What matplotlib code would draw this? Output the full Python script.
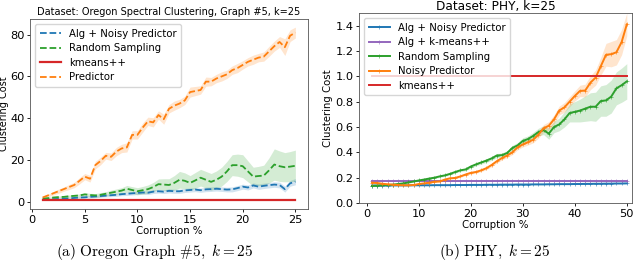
import numpy as np
import matplotlib
matplotlib.use('Agg')
import matplotlib.pyplot as plt

plt.rcParams['mathtext.fontset'] = 'cm'
plt.rcParams['font.size'] = 7.3

# ---- left panel: Oregon Graph #5 ----
x_oregon = np.arange(1, 25.5, 0.5)

predictor = [2.0, 3.0, 4.0, 5.0, 6.0, 7.0, 8.0, 10.0, 12.0, 11.0,
             17.5, 19.5, 22.0, 21.5, 24.0, 25.5, 26.0, 32.0, 32.0, 35.5,
             38.5, 38.0, 41.5, 39.5, 44.5, 46.0, 47.0, 48.5, 52.5, 53.0,
             53.5, 57.5, 57.5, 59.0, 60.0, 61.0, 63.0, 64.0, 65.5, 67.0,
             68.0, 69.0, 69.5, 72.0, 74.5, 76.5, 74.0, 79.5, 81.0]
predictor_err = [0.5, 0.6, 0.8, 1.0, 1.0, 1.2, 1.3, 1.5, 1.5, 1.6,
                 1.8, 1.8, 1.6, 1.8, 2.0, 2.0, 2.2, 2.0, 2.0, 2.2,
                 2.0, 2.2, 2.0, 2.4, 2.0, 2.2, 2.0, 2.0, 2.4, 2.2,
                 2.0, 2.2, 2.0, 2.0, 2.2, 2.0, 2.0, 2.2, 2.0, 2.0,
                 2.2, 2.0, 2.2, 2.4, 2.4, 2.6, 4.0, 2.8, 2.6]

random_sampling = [1.5, 1.7, 2.0, 2.2, 2.3, 2.6, 2.8, 3.0, 3.5, 3.2,
                   3.0, 3.3, 3.8, 4.3, 4.8, 5.3, 6.2, 5.6, 5.0, 5.5,
                   6.0, 7.0, 8.4, 8.2, 8.0, 9.0, 10.5, 10.0, 9.0, 10.2,
                   11.5, 10.5, 9.5, 10.5, 12.0, 14.5, 17.5, 17.5, 17.0, 14.5,
                   12.0, 12.3, 12.5, 15.0, 17.8, 17.0, 16.5, 16.8, 17.2]
random_err = [0.4, 0.4, 0.5, 0.5, 0.6, 0.6, 0.7, 0.7, 0.8, 0.8,
              0.9, 1.0, 1.0, 1.2, 1.3, 1.4, 1.6, 1.6, 1.7, 1.8,
              2.0, 2.2, 2.5, 2.8, 3.0, 3.5, 4.0, 3.8, 3.5, 3.8,
              4.0, 4.0, 4.0, 4.2, 4.5, 4.8, 5.0, 5.3, 5.5, 5.0,
              4.5, 4.6, 5.0, 6.0, 7.5, 7.3, 7.0, 7.2, 7.5]

alg_noisy = [1.0, 1.1, 1.2, 1.3, 1.5, 1.6, 1.8, 2.0, 2.1, 2.3,
             2.5, 2.7, 2.9, 3.1, 3.3, 3.6, 3.8, 4.0, 4.2, 4.4,
             4.3, 4.8, 5.0, 4.8, 5.2, 5.0, 5.0, 5.4, 5.6, 5.8,
             5.5, 5.9, 6.0, 6.2, 6.0, 5.8, 5.9, 6.5, 7.2, 6.8,
             7.8, 7.2, 7.6, 7.9, 8.2, 8.0, 6.0, 8.8, 9.6]
alg_noisy_err = [0.3, 0.3, 0.3, 0.4, 0.4, 0.4, 0.5, 0.5, 0.5, 0.6,
                 0.6, 0.6, 0.6, 0.7, 0.7, 0.7, 0.8, 0.8, 0.8, 0.8,
                 0.9, 0.9, 0.9, 0.9, 1.0, 1.0, 1.0, 1.0, 1.0, 1.0,
                 1.0, 1.1, 1.1, 1.1, 1.1, 1.1, 1.2, 1.2, 1.2, 1.2,
                 1.2, 1.3, 1.3, 1.3, 1.3, 1.4, 1.4, 1.4, 1.5]
kmeans_oregon = 1.0

# ---- right panel: PHY ----
x_phy = np.arange(1, 51)

phy_alg_noisy = [0.138, 0.138, 0.138, 0.138, 0.139, 0.139, 0.139, 0.139, 0.140, 0.140,
                 0.140, 0.140, 0.141, 0.141, 0.141, 0.141, 0.142, 0.142, 0.142, 0.143,
                 0.143, 0.143, 0.144, 0.144, 0.144, 0.145, 0.145, 0.145, 0.146, 0.146,
                 0.146, 0.147, 0.147, 0.147, 0.148, 0.148, 0.149, 0.149, 0.149, 0.150,
                 0.150, 0.151, 0.151, 0.152, 0.152, 0.153, 0.153, 0.154, 0.154, 0.155]
phy_alg_kmeans = 0.175

phy_random = [0.135, 0.137, 0.140, 0.142, 0.145, 0.150, 0.155, 0.162, 0.170, 0.178,
              0.185, 0.193, 0.200, 0.210, 0.218, 0.230, 0.245, 0.258, 0.265, 0.288,
              0.305, 0.320, 0.335, 0.352, 0.375, 0.378, 0.395, 0.435, 0.455, 0.490,
              0.505, 0.530, 0.560, 0.575, 0.548, 0.600, 0.620, 0.660, 0.710, 0.720,
              0.730, 0.745, 0.760, 0.760, 0.805, 0.810, 0.840, 0.905, 0.930, 0.960]
phy_random_err = [0.004, 0.004, 0.004, 0.004, 0.005, 0.005, 0.005, 0.005, 0.006, 0.006,
                  0.006, 0.006, 0.007, 0.007, 0.008, 0.008, 0.009, 0.010, 0.010, 0.011,
                  0.012, 0.013, 0.014, 0.015, 0.016, 0.017, 0.018, 0.020, 0.022, 0.025,
                  0.025, 0.028, 0.030, 0.035, 0.045, 0.045, 0.050, 0.060, 0.070, 0.080,
                  0.090, 0.100, 0.110, 0.115, 0.120, 0.125, 0.130, 0.130, 0.135, 0.140]

phy_noisy_pred = [0.160, 0.158, 0.152, 0.148, 0.145, 0.142, 0.140, 0.140, 0.142, 0.150,
                  0.155, 0.160, 0.168, 0.170, 0.185, 0.195, 0.198, 0.210, 0.225, 0.238,
                  0.245, 0.258, 0.275, 0.300, 0.330, 0.355, 0.375, 0.400, 0.440, 0.462,
                  0.480, 0.500, 0.540, 0.590, 0.610, 0.660, 0.730, 0.755, 0.800, 0.845,
                  0.885, 0.888, 0.950, 0.990, 1.080, 1.170, 1.175, 1.190, 1.270, 1.410]
phy_noisy_err = [0.004, 0.004, 0.004, 0.004, 0.004, 0.004, 0.004, 0.004, 0.004, 0.005,
                 0.005, 0.005, 0.006, 0.006, 0.006, 0.007, 0.007, 0.008, 0.008, 0.009,
                 0.010, 0.010, 0.012, 0.013, 0.015, 0.015, 0.016, 0.018, 0.020, 0.020,
                 0.022, 0.025, 0.028, 0.030, 0.032, 0.035, 0.035, 0.038, 0.040, 0.040,
                 0.045, 0.050, 0.055, 0.060, 0.070, 0.090, 0.100, 0.100, 0.100, 0.090]
kmeans_phy = 1.0

blue, orange, green, red, purple = '#1f77b4', '#ff7f0e', '#2ca02c', '#d62728', '#9467bd'


def band(ax, x, y, err, color, alpha):
    y = np.asarray(y)
    err = np.asarray(err)
    ax.fill_between(x, y - err, y + err, color=color, alpha=alpha, lw=0)


fig = plt.figure(figsize=(6.4, 2.61), dpi=100)
ax1 = fig.add_axes([30 / 640, 1 - 209 / 261, 278 / 640, 190 / 261])
ax2 = fig.add_axes([359 / 640, 1 - 203 / 261, 273 / 640, 190 / 261])

leg_kw = dict(loc='upper left', fontsize=7.3, handlelength=2.1, borderpad=0.45,
              labelspacing=0.45, handletextpad=0.8)

# left
band(ax1, x_oregon, alg_noisy, alg_noisy_err, blue, 0.2)
band(ax1, x_oregon, random_sampling, random_err, green, 0.2)
band(ax1, x_oregon, predictor, predictor_err, orange, 0.2)
ax1.plot(x_oregon, alg_noisy, '--', color=blue, lw=1.3, label='Alg + Noisy Predictor')
ax1.plot(x_oregon, random_sampling, '--', color=green, lw=1.3, label='Random Sampling')
ax1.plot(x_oregon, [kmeans_oregon] * len(x_oregon), '-', color=red, lw=1.6, label='kmeans++')
ax1.plot(x_oregon, predictor, '--', color=orange, lw=1.3, label='Predictor')
ax1.set_xlim(-0.2, 26.2)
ax1.set_ylim(-3.5, 87.5)
ax1.set_xticks([0, 5, 10, 15, 20, 25])
ax1.set_yticks([0, 20, 40, 60, 80])
ax1.set_xlabel('Corruption %', labelpad=1)
ax1.set_ylabel('Clustering Cost', labelpad=1, fontsize=7.0)
ax1.set_title('Dataset: Oregon Spectral Clustering, Graph #5, k=25', pad=3, fontsize=7.0)
ax1.legend(**leg_kw)

# right
band(ax2, x_phy, phy_alg_noisy, [0.003] * len(x_phy), blue, 0.2)
band(ax2, x_phy, phy_random, phy_random_err, green, 0.2)
band(ax2, x_phy, phy_noisy_pred, phy_noisy_err, orange, 0.2)
mk = dict(marker='+', markersize=2.2, mew=0.4)
ax2.plot(x_phy, phy_alg_noisy, '-', color=blue, lw=1.4, label='Alg + Noisy Predictor', **mk)
ax2.plot(x_phy, [phy_alg_kmeans] * len(x_phy), '-', color=purple, lw=1.4, label='Alg + k-means++', **mk)
ax2.plot(x_phy, phy_random, '-', color=green, lw=1.4, label='Random Sampling', **mk)
ax2.plot(x_phy, phy_noisy_pred, '-', color=orange, lw=1.4, label='Noisy Predictor', **mk)
ax2.plot(x_phy, [kmeans_phy] * len(x_phy), '-', color=red, lw=1.4, label='kmeans++')
ax2.set_xlim(-1.5, 51)
ax2.set_ylim(0, 1.5)
ax2.set_xticks([0, 10, 20, 30, 40, 50])
ax2.set_yticks([0.0, 0.2, 0.4, 0.6, 0.8, 1.0, 1.2, 1.4])
ax2.set_xlabel('Corruption %', labelpad=1)
ax2.set_ylabel('Clustering Cost', labelpad=2)
ax2.set_title('Dataset: PHY, k=25', pad=2)
ax2.legend(**leg_kw)

for ax in (ax1, ax2):
    ax.tick_params(labelsize=8.2, length=2.5, width=0.6, pad=1.5)
    for s in ax.spines.values():
        s.set_linewidth(0.6)
        s.set_color('#555555')

fig.text(0.242, 0.036, r'$\mathrm{(a)\ Oregon\ Graph\ \#5,}\ k = 25$', ha='center', va='center', fontsize=11)
fig.text(0.773, 0.036, r'$\mathrm{(b)\ PHY,}\ k = 25$', ha='center', va='center', fontsize=11)

fig.savefig('out.png', dpi=100)
